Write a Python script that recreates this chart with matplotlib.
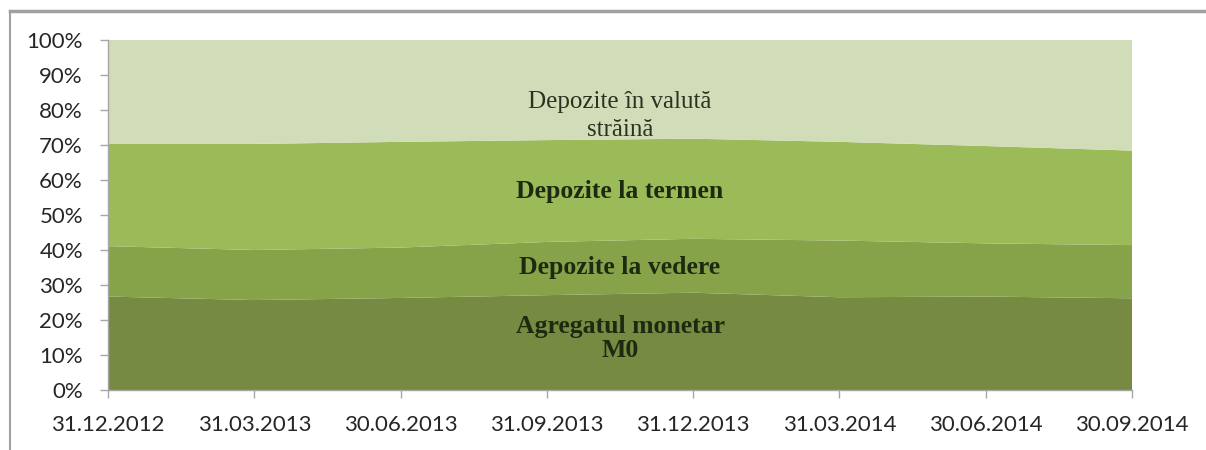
import numpy as np
import matplotlib
matplotlib.use("Agg")
import matplotlib.pyplot as plt
from matplotlib.lines import Line2D

# Date (procente din total)
dates = ["31.12.2012", "31.03.2013", "30.06.2013", "31.09.2013",
         "31.12.2013", "31.03.2014", "30.06.2014", "30.09.2014"]
m0 = [26.7, 25.7, 26.3, 27.1, 27.8, 26.5, 26.7, 26.2]
dep_vedere = [14.4, 14.3, 14.4, 15.2, 15.4, 16.2, 15.2, 15.2]
dep_termen = [29.2, 30.3, 30.2, 29.1, 28.6, 28.2, 27.8, 27.0]
dep_valuta = [29.7, 29.7, 29.1, 28.6, 28.2, 29.1, 30.3, 31.6]

colors = ["#768a41", "#87a34a", "#9bbb59", "#d1ddb9"]

fig = plt.figure(figsize=(12.06, 4.5), dpi=100)
ax = fig.add_axes([108 / 1206, 1 - 390 / 450, 1024 / 1206, 350 / 450])

x = np.arange(len(dates))
ax.stackplot(x, m0, dep_vedere, dep_termen, dep_valuta, colors=colors,
             linewidth=0)

ax.set_xlim(0, len(dates) - 1)
ax.set_ylim(0, 100)
ax.set_yticks(np.arange(0, 101, 10))
ax.set_yticklabels([f"{v}%" for v in range(0, 101, 10)])
ax.set_xticks(x)
ax.set_xticklabels(dates)

for s in ["top", "right"]:
    ax.spines[s].set_visible(False)
for s in ["left", "bottom"]:
    ax.spines[s].set_color("#a6a6a6")
    ax.spines[s].set_linewidth(1)
ax.tick_params(axis="both", colors="#a6a6a6", length=6, width=1,
               labelcolor="#262626", labelsize=16)
ax.tick_params(axis="y", pad=12)
ax.tick_params(axis="x", pad=12)
for lab in ax.get_xticklabels() + ax.get_yticklabels():
    lab.set_fontfamily("Lato")

# etichete serii
txt_col = "#1e2a10"
ax.text(3.5, 78.3, "Depozite în valută\nstrăină", ha="center", va="center",
        fontsize=18, family="Liberation Serif", color="#2b3320",
        linespacing=1.3)
ax.text(3.5, 56.6, "Depozite la termen", ha="center", va="center",
        fontsize=18.5, family="Liberation Serif", weight="bold",
        color=txt_col)
ax.text(3.5, 34.9, "Depozite la vedere", ha="center", va="center",
        fontsize=18.5, family="Liberation Serif", weight="bold",
        color=txt_col)
ax.text(3.5, 14.7, "Agregatul monetar\nM0", ha="center", va="center",
        fontsize=18.5, family="Liberation Serif", weight="bold",
        color=txt_col, linespacing=1.1)

# chenarul exterior (taiat in dreapta si jos)
fig.add_artist(Line2D([10 / 1206, 1], [1 - 11 / 450, 1 - 11 / 450],
                      transform=fig.transFigure, color="#a0a0a0", lw=2.5))
fig.add_artist(Line2D([10 / 1206, 10 / 1206], [0, 1 - 11 / 450],
                      transform=fig.transFigure, color="#a0a0a0", lw=1.5))

fig.savefig("out.png", dpi=100)
